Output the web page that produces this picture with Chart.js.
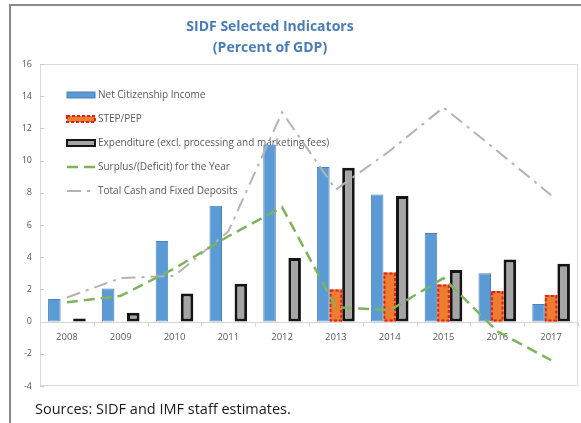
<!DOCTYPE html>
<html>
<head>
<meta charset="utf-8">
<title>SIDF Selected Indicators</title>
<script src="https://cdn.jsdelivr.net/npm/chart.js@4.4.1/dist/chart.umd.min.js"></script>
<style>
  html, body { margin: 0; padding: 0; background: #ffffff; }
  #wrap { width: 581px; height: 423px; }
</style>
</head>
<body>
<div id="wrap"><canvas id="sidf-chart" width="581" height="423"></canvas></div>
<script>
// values (percent of GDP)
const years = ['2008', '2009', '2010', '2011', '2012', '2013', '2014', '2015', '2016', '2017'];
const netCitizenshipIncome = [1.4, 2.05, 5.0, 7.2, 11.0, 9.6, 7.9, 5.5, 3.0, 1.1];
const stepPep = [null, null, null, null, null, 2.0, 3.05, 2.3, 1.9, 1.65];
const expenditure = [0.2, 0.55, 1.75, 2.35, 3.95, 9.55, 7.8, 3.2, 3.85, 3.6];
const surplusDeficit = [1.2, 1.6, 3.3, 5.3, 7.1, 0.9, 0.7, 2.7, -0.6, -2.4];
const totalCashDeposits = [1.5, 2.7, 2.85, 5.6, 13.0, 8.2, 10.6, 13.3, 10.6, 7.85];
const yMin = -4, yMax = 16, yStep = 2;

const titleLines = ['SIDF Selected Indicators', '(Percent of GDP)'];
const sourceNote = 'Sources: SIDF and IMF staff estimates.';

const FONT = '"Open Sans", "Noto Sans", sans-serif';
const TEXT_GRAY = '#595959';

// draws the frame, titles, legend, zero axis, year labels and the dashed STEP/PEP outline
const sidfDecor = {
    id: 'sidfDecor',
    beforeDraw(chart) {
        const ctx = chart.ctx;
        const a = chart.chartArea;
        ctx.save();
        ctx.fillStyle = '#ffffff';
        ctx.fillRect(0, 0, chart.width, chart.height);

        ctx.strokeStyle = '#8a8a8a';
        ctx.lineWidth = 2;
        ctx.beginPath();
        ctx.moveTo(10, chart.height);
        ctx.lineTo(10, 5);
        ctx.lineTo(chart.width, 5);
        ctx.stroke();

        ctx.strokeStyle = '#dadada';
        ctx.lineWidth = 1;
        ctx.strokeRect(a.left + 0.5, a.top + 0.5, a.width - 1, a.height - 1);

        ctx.fillStyle = '#4a7db5';
        ctx.font = 'bold 14px ' + FONT;
        ctx.textAlign = 'center';
        ctx.textBaseline = 'middle';
        titleLines.forEach((t, i) => ctx.fillText(t, 270, 27 + i * 21));

        ctx.fillStyle = '#1a1a1a';
        ctx.font = '14.5px ' + FONT;
        ctx.textAlign = 'left';
        ctx.fillText(sourceNote, 35, 410);
        ctx.restore();
    },
    beforeDatasetsDraw(chart) {
        const ctx = chart.ctx;
        const a = chart.chartArea;
        const xs = chart.scales.x;
        const ys = chart.scales.y;
        const zero = Math.round(ys.getPixelForValue(0)) + 0.5;
        ctx.save();

        // y tick marks
        ctx.strokeStyle = '#c8c8c8';
        ctx.lineWidth = 1;
        ys.ticks.forEach(t => {
            const py = Math.round(ys.getPixelForValue(t.value)) + 0.5;
            ctx.beginPath();
            ctx.moveTo(a.left, py);
            ctx.lineTo(a.left + 4, py);
            ctx.stroke();
        });

        // zero axis with category tick marks
        ctx.strokeStyle = '#d4d4d4';
        ctx.beginPath();
        ctx.moveTo(a.left, zero);
        ctx.lineTo(a.right, zero);
        for (let i = 0; i <= years.length; i++) {
            const px = Math.round(xs.getPixelForValue(i - 0.5)) + 0.5;
            ctx.moveTo(px, zero);
            ctx.lineTo(px, zero + 4);
        }
        ctx.stroke();

        ctx.fillStyle = TEXT_GRAY;
        ctx.font = '9.5px ' + FONT;
        ctx.textAlign = 'center';
        ctx.textBaseline = 'middle';
        years.forEach((y, i) => ctx.fillText(y, xs.getPixelForValue(i), zero + 15));

        // legend inside the plot area
        ctx.font = '10px ' + FONT;
        ctx.textAlign = 'left';
        chart.data.datasets.forEach((ds, i) => {
            const ly = 95 + i * 24;
            const x0 = 67, x1 = 95;
            ctx.save();
            if (ds.type === 'line') {
                ctx.strokeStyle = ds.borderColor;
                ctx.lineWidth = ds.borderWidth;
                ctx.setLineDash(ds.borderDash);
                ctx.beginPath();
                ctx.moveTo(x0, ly);
                ctx.lineTo(x1, ly);
                ctx.stroke();
            } else {
                ctx.fillStyle = ds.backgroundColor;
                ctx.fillRect(x0, ly - 3, x1 - x0, 6);
                if (ds.dashedOutline) {
                    ctx.strokeStyle = ds.dashedOutline;
                    ctx.lineWidth = 2;
                    ctx.setLineDash([3, 2]);
                } else {
                    ctx.strokeStyle = ds.borderColor;
                    ctx.lineWidth = Math.min(ds.borderWidth, 2);
                }
                ctx.strokeRect(x0, ly - 3, x1 - x0, 6);
            }
            ctx.restore();
            ctx.fillStyle = TEXT_GRAY;
            ctx.fillText(ds.label, x1 + 3, ly);
        });
        ctx.restore();
    },
    afterDatasetDraw(chart, args) {
        const ds = chart.data.datasets[args.index];
        if (!ds.dashedOutline) return;
        const ctx = chart.ctx;
        ctx.save();
        ctx.strokeStyle = ds.dashedOutline;
        ctx.lineWidth = 2;
        ctx.setLineDash([3, 2]);
        args.meta.data.forEach((bar, i) => {
            if (ds.data[i] === null) return;
            const p = bar.getProps(['x', 'y', 'base', 'width'], true);
            ctx.strokeRect(p.x - p.width / 2 + 1, p.y + 1, p.width - 2, p.base - p.y - 2);
        });
        ctx.restore();
    }
};

const ctx = document.getElementById('sidf-chart');
new Chart(ctx, {
    data: {
        labels: years,
        datasets: [
            {
                type: 'bar',
                label: 'Net Citizenship Income',
                data: netCitizenshipIncome,
                backgroundColor: '#5b9bd5',
                borderColor: '#4a82bd',
                borderWidth: 1,
                borderSkipped: false,
                order: 2
            },
            {
                type: 'bar',
                label: 'STEP/PEP',
                data: stepPep,
                backgroundColor: '#ed7d31',
                borderWidth: 0,
                dashedOutline: '#e0201b',
                order: 2
            },
            {
                type: 'bar',
                label: 'Expenditure (excl. processing and marketing fees)',
                data: expenditure,
                backgroundColor: '#a5a5a5',
                borderColor: '#151515',
                borderWidth: 3,
                borderSkipped: false,
                order: 2
            },
            {
                type: 'line',
                label: 'Surplus/(Deficit) for the Year',
                data: surplusDeficit,
                borderColor: '#7fb35c',
                borderWidth: 2.5,
                borderDash: [11, 6],
                pointRadius: 0,
                tension: 0,
                fill: false,
                order: 1
            },
            {
                type: 'line',
                label: 'Total Cash and Fixed Deposits',
                data: totalCashDeposits,
                borderColor: '#b3b3b3',
                borderWidth: 2,
                borderDash: [14, 6, 3, 6],
                pointRadius: 0,
                tension: 0,
                fill: false,
                order: 1
            }
        ]
    },
    options: {
        responsive: false,
        animation: false,
        devicePixelRatio: 1,
        layout: { padding: { top: 64, bottom: 37, left: 0, right: 3 } },
        datasets: {
            bar: { categoryPercentage: 0.7, barPercentage: 1.0 }
        },
        scales: {
            x: {
                type: 'category',
                display: false,
                offset: true
            },
            y: {
                min: yMin,
                max: yMax,
                ticks: {
                    stepSize: yStep,
                    color: TEXT_GRAY,
                    font: { family: FONT, size: 9 },
                    padding: 8
                },
                grid: { display: false, drawTicks: false },
                border: { display: false },
                afterFit: scale => { scale.width = 40; }
            }
        },
        plugins: {
            legend: { display: false },
            title: { display: false },
            tooltip: { enabled: false }
        }
    },
    plugins: [sidfDecor]
});
</script>
</body>
</html>
